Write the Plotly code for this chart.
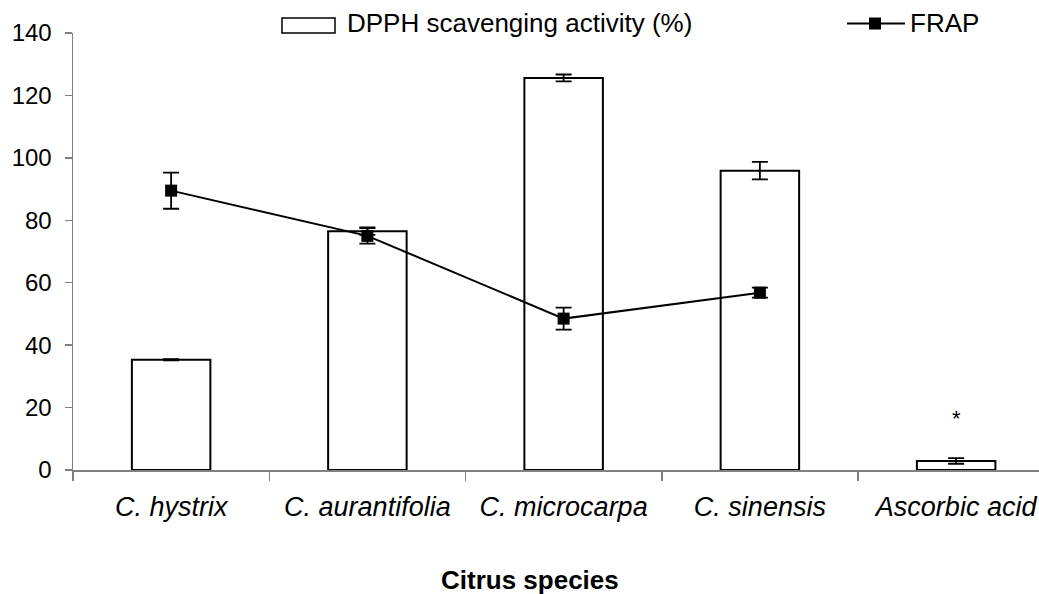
import plotly.graph_objects as go

categories = ["C. hystrix", "C. aurantifolia", "C. microcarpa", "C. sinensis", "Ascorbic acid"]
dpph = [35.3, 76.5, 125.6, 95.9, 2.9]
dpph_err = [0.2, 1.2, 1.1, 2.8, 0.9]
frap_categories = ["C. hystrix", "C. aurantifolia", "C. microcarpa", "C. sinensis"]
frap = [89.5, 75.0, 48.5, 56.8]
frap_err = [5.8, 2.5, 3.5, 1.6]
y_ticks = [0, 20, 40, 60, 80, 100, 120, 140]

FONT = "Liberation Sans, Arial, sans-serif"

fig = go.Figure()
fig.add_trace(go.Bar(
    x=categories, y=dpph, width=0.40,
    marker=dict(color="white", line=dict(color="black", width=2)),
    error_y=dict(type="data", array=dpph_err, color="black", thickness=1.8, width=8),
    name="DPPH scavenging activity (%)", showlegend=False,
))
fig.add_trace(go.Scatter(
    x=frap_categories, y=frap, mode="lines+markers",
    line=dict(color="black", width=2),
    marker=dict(symbol="square", size=12, color="black"),
    error_y=dict(type="data", array=frap_err, color="black", thickness=1.8, width=8),
    name="FRAP", showlegend=False,
))

W, H = 1039, 594
L, R, T, B = 73, 0, 33, 124
pw, ph = W - L - R, H - T - B

def px(x):
    return (x - L) / pw

def py(y):
    return (H - B - y) / ph

# legend drawn manually
shapes = [
    dict(type="rect", xref="paper", yref="paper", x0=px(282), x1=px(335), y0=py(33), y1=py(18),
         line=dict(color="black", width=1.5), fillcolor="white"),
    dict(type="line", xref="paper", yref="paper", x0=px(847), x1=px(905), y0=py(23.5), y1=py(23.5),
         line=dict(color="black", width=2)),
    dict(type="rect", xref="paper", yref="paper", x0=px(869), x1=px(881), y0=py(29.5), y1=py(17.5),
         line=dict(color="black", width=0), fillcolor="black"),
]
annotations = [
    dict(text="DPPH scavenging activity (%)", xref="paper", yref="paper", x=px(345), y=py(22.5),
         xanchor="left", yanchor="middle", showarrow=False, font=dict(family=FONT, size=26, color="black")),
    dict(text="FRAP", xref="paper", yref="paper", x=px(908), y=py(22.5),
         xanchor="left", yanchor="middle", showarrow=False, font=dict(family=FONT, size=26, color="black")),
    dict(text="<b>Citrus species</b>", xref="paper", yref="paper", x=px(530), y=py(580),
         xanchor="center", yanchor="middle", showarrow=False, font=dict(family=FONT, size=26, color="black")),
    dict(text="*", x="Ascorbic acid", y=16.4, xref="x", yref="y",
         xanchor="center", yanchor="middle", showarrow=False, font=dict(family=FONT, size=22, color="black")),
]

fig.update_layout(
    width=W, height=H,
    margin=dict(l=L, r=R, t=T, b=B, pad=0),
    paper_bgcolor="white", plot_bgcolor="white",
    font=dict(family=FONT, color="black"),
    bargap=0.6,
    shapes=shapes, annotations=annotations,
    xaxis=dict(
        type="category", categoryorder="array", categoryarray=categories,
        range=[-0.5, -0.5 + pw / 196.25],
        tickmode="array", tickvals=categories,
        ticktext=["<i>%s</i>" % c for c in categories],
        tickson="boundaries", ticks="outside", ticklen=9, tickwidth=1.5, tickcolor="#808080",
        showline=True, linecolor="#808080", linewidth=1.5,
        showgrid=False, zeroline=False,
        tickfont=dict(family=FONT, size=27, color="black"),
        ticklabelstandoff=12,
    ),
    yaxis=dict(
        range=[0, 140], tickmode="array", tickvals=y_ticks,
        ticks="outside", ticklen=7, tickwidth=1.5, tickcolor="#808080",
        showline=True, linecolor="#808080", linewidth=1.5,
        showgrid=False, zeroline=False,
        tickfont=dict(family=FONT, size=24, color="black"),
        ticklabelstandoff=8,
    ),
)

fig.write_html(
    "out.html",
    config={"displayModeBar": False, "staticPlot": True},
    post_script="document.body.style.margin='0px';document.body.style.overflow='hidden';",
)
